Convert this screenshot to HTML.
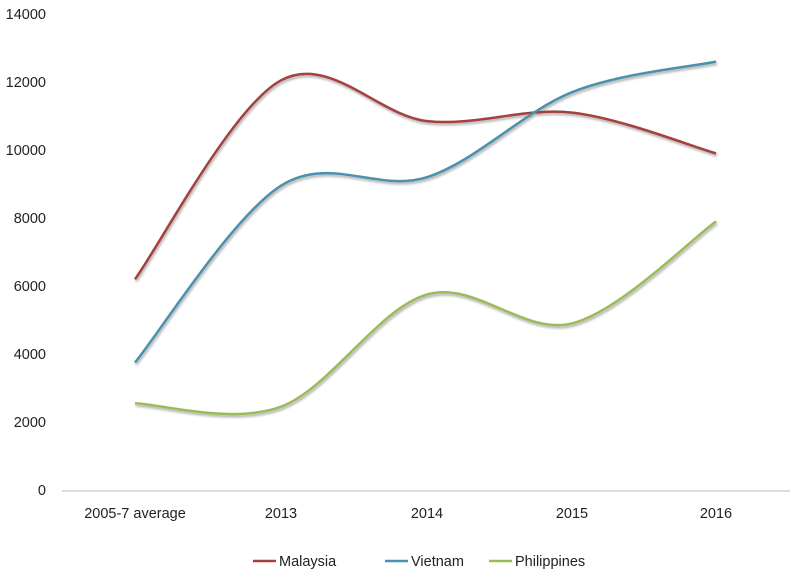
<!DOCTYPE html>
<html><head><meta charset="utf-8"><style>
body{margin:0;background:#fff;}
svg text{font-family:"Liberation Sans",sans-serif;font-size:14.5px;fill:#222;}
</style></head><body>
<svg id="s" width="800" height="580" xmlns="http://www.w3.org/2000/svg">
<defs><filter id="sh" x="-5%" y="-5%" width="110%" height="120%"><feGaussianBlur in="SourceAlpha" stdDeviation="1.2"/><feOffset dx="1" dy="2"/><feComponentTransfer><feFuncA type="linear" slope="0.35"/></feComponentTransfer><feMerge><feMergeNode/><feMergeNode in="SourceGraphic"/></feMerge></filter></defs>
<g text-anchor="end">
<text x="46" y="495">0</text><text x="46" y="427">2000</text><text x="46" y="359">4000</text><text x="46" y="291">6000</text><text x="46" y="223">8000</text><text x="46" y="155">10000</text><text x="46" y="87">12000</text><text x="46" y="19">14000</text>
</g>
<line x1="62" y1="491" x2="790" y2="491" stroke="#bbb" stroke-width="1"/>
<g text-anchor="middle">
<text x="135" y="518">2005-7 average</text><text x="281" y="518">2013</text><text x="427" y="518">2014</text><text x="572" y="518">2015</text><text x="716" y="518">2016</text>
</g>
<g id="lines" fill="none" stroke-width="2.5" filter="url(#sh)"></g>
<line x1="253" y1="561" x2="276" y2="561" stroke="#A4403D" stroke-width="2.5"/><text x="279" y="566">Malaysia</text>
<line x1="385" y1="561" x2="408" y2="561" stroke="#4A91AD" stroke-width="2.5"/><text x="411" y="566">Vietnam</text>
<line x1="489" y1="561" x2="512" y2="561" stroke="#9BBB59" stroke-width="2.5"/><text x="515" y="566">Philippines</text>
</svg>
<script>
var xs=[135,281,427,572,716];
var data=[["#A4403D",[6200,12050,10850,11100,9900]],["#4A91AD",[3750,8950,9200,11700,12600]],["#9BBB59",[2550,2450,5750,4900,7900]]];
var g=document.getElementById("lines");
data.forEach(function(d){
 var p=d[1].map(function(v,i){return [xs[i],490-v*0.034];});
 var s="M"+p[0][0]+","+p[0][1];
 for(var i=0;i<p.length-1;i++){
  var p0=p[i>0?i-1:i],p1=p[i],p2=p[i+1],p3=p[i+2<p.length?i+2:i+1];
  var c1=[p1[0]+(p2[0]-p0[0])/6,p1[1]+(p2[1]-p0[1])/6];
  var c2=[p2[0]-(p3[0]-p1[0])/6,p2[1]-(p3[1]-p1[1])/6];
  s+=" C"+c1+" "+c2+" "+p2;
 }
 var e=document.createElementNS("http://www.w3.org/2000/svg","path");
 e.setAttribute("d",s);e.setAttribute("stroke",d[0]);g.appendChild(e);
});
</script>
</body></html>
